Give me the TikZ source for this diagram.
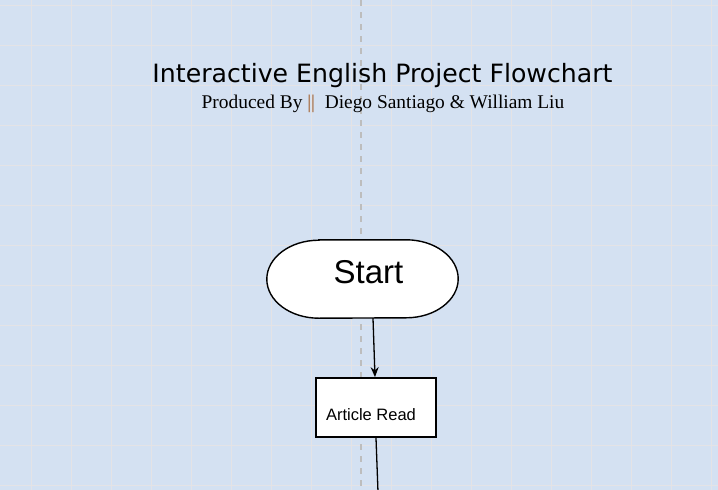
\documentclass[tikz,border=0pt]{standalone}
\usepackage{fontspec}
\usepackage{xcolor}
\usetikzlibrary{arrows.meta,positioning,backgrounds}
\newfontfamily\titlefont{DejaVu Sans}
\newfontfamily\creditfont{Liberation Serif}
\newfontfamily\boxfont{Liberation Sans}
\definecolor{Canvas}{HTML}{D4E1F2}
\definecolor{GridLine}{HTML}{E4E3E6}
\definecolor{Guide}{HTML}{BDBDBD}
\definecolor{Bar}{HTML}{A0561E}
\definecolor{Ink}{HTML}{000000}

\begin{document}
\begin{tikzpicture}[
    x=1pt, y=-1pt,
    terminal/.style={
        minimum width=191pt,
        minimum height=78pt,
        inner sep=0pt,
        font=\boxfont\fontsize{33}{36}\selectfont
    },
    terminalline/.style={
        draw=Ink,
        line width=1.4pt,
        fill=white
    },
    process/.style={
        draw=Ink,
        line width=1.8pt,
        fill=white,
        minimum width=120pt,
        minimum height=59pt,
        inner sep=0pt,
        font=\boxfont\fontsize{16.5}{19}\selectfont
    },
    arrow/.style={
        -{Stealth[length=10pt,width=8pt]},
        line width=1.3pt,
        draw=Ink
    },
    flow/.style={
        line width=1.3pt,
        draw=Ink
    }
]

% Background
\useasboundingbox (0,0) rectangle (718,490);
\begin{scope}[on background layer]
\fill[Canvas] (0,0) rectangle (718,490);
\foreach \gx in {31,71,...,711}
    \draw[GridLine, line width=1pt] (\gx,0) -- (\gx,490);
\foreach \gy in {5,45,...,485}
    \draw[GridLine, line width=1pt] (0,\gy) -- (718,\gy);

% Centre guide
\draw[Guide, line width=2pt, dash pattern=on 6pt off 6pt] (361,0) -- (361,490);
\end{scope}

% Title
\node[font=\titlefont\fontsize{25.2}{28}\selectfont, text=Ink] (title) at (382.5,76)
{Interactive English Project Flowchart};

\node[font=\creditfont\fontsize{19.4}{22}\selectfont, text=Ink, anchor=base] (credit) at (383,108)
{Produced By {\color{Bar}||}\ \ Diego Santiago \& William Liu};

% Flow
\node[terminal] (start) at (362.5,279)
{\hspace*{12pt}\raisebox{7pt}[\height][\depth]{Start}};

\begin{scope}[on background layer]
\path[terminalline]
    ([xshift=52pt]start.north west) -- ([xshift=-52pt]start.north east)
    arc[start angle=90, end angle=-90, x radius=52pt, y radius=39pt]
    -- ([xshift=52pt]start.south west)
    arc[start angle=270, end angle=90, x radius=52pt, y radius=39pt]
    -- cycle;
\end{scope}

\node[process] (read) at (376,407.5)
{\raisebox{-7pt}[\height][\depth]{Article Read}\hspace*{10pt}};

\coordinate (next) at (378,492);

\draw[arrow] ([xshift=10.5pt]start.south) -- ([xshift=-1pt]read.north);
\draw[flow] (read.south) -- (next);

\end{tikzpicture}
\end{document}
